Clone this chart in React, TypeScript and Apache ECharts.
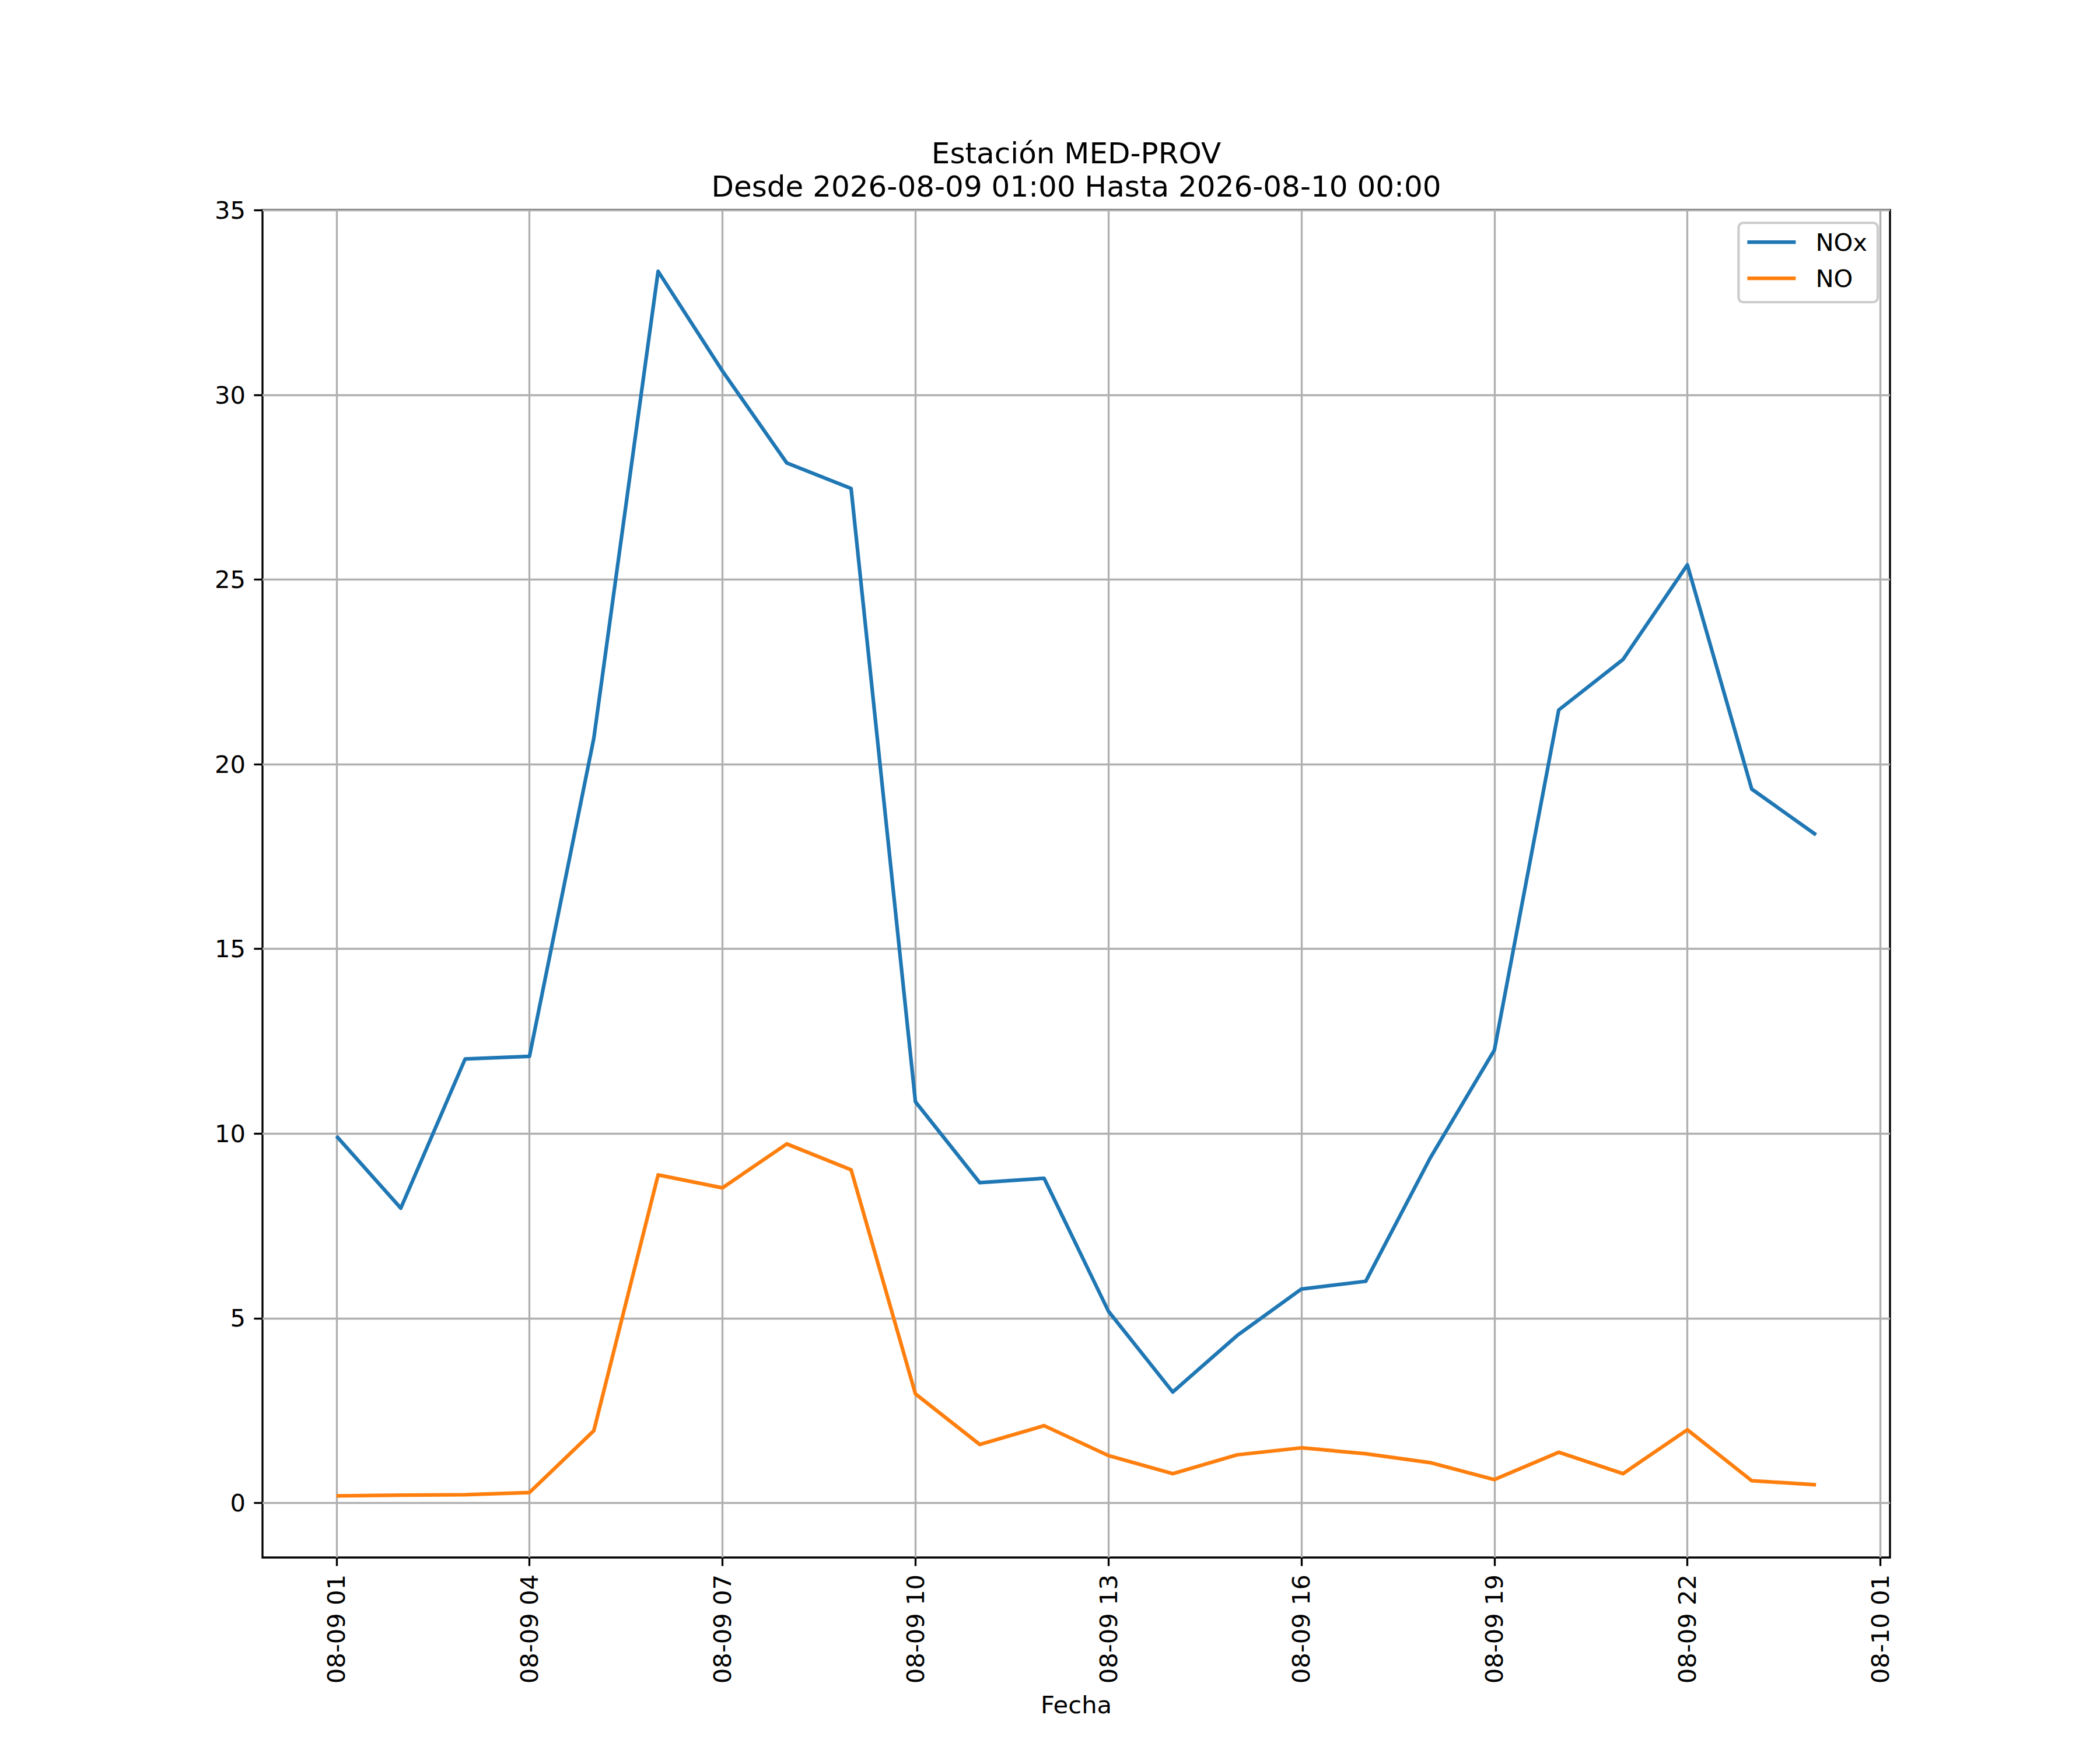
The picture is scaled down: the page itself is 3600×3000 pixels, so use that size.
import React, { useEffect, useRef } from "react";
import * as echarts from "echarts";

const hours = [1, 2, 3, 4, 5, 6, 7, 8, 9, 10, 11, 12, 13, 14, 15, 16, 17, 18, 19, 20, 21, 22, 23, 24];
const noxValues = [9.93, 7.98, 12.02, 12.09, 20.7, 33.35, 30.65, 28.16, 27.47, 10.86, 8.67, 8.79, 5.19, 3.0, 4.53, 5.79, 6.0, 9.33, 12.26, 21.47, 22.84, 25.4, 19.33, 18.09];
const noValues = [0.19, 0.21, 0.22, 0.28, 1.95, 8.88, 8.53, 9.72, 9.02, 2.95, 1.58, 2.09, 1.28, 0.79, 1.3, 1.49, 1.33, 1.09, 0.63, 1.37, 0.79, 1.98, 0.6, 0.49];
const xTickHours = [1, 4, 7, 10, 13, 16, 19, 22, 25];
const yTicks = [0, 5, 10, 15, 20, 25, 30, 35];
const titleLines = ["Estación MED-PROV", "Desde 2026-08-09 01:00 Hasta 2026-08-10 00:00"];
const xAxisName = "Fecha";
const seriesNames = ["NOx", "NO"];
const seriesColors = ["#1f77b4", "#ff7f0e"];

const FONT = "DejaVu Sans";
const FS = 41.67;

function pad2(n: number) {
  return n < 10 ? "0" + n : "" + n;
}
function hourLabel(h: number) {
  const hh = Math.round(h);
  if (hh < 24) return "08-09 " + pad2(hh);
  return "08-10 " + pad2(hh - 24);
}

export default function App() {
  const ref = useRef<HTMLDivElement>(null);
  useEffect(() => {
    if (!ref.current) return;
    const chart = echarts.init(ref.current, null, { renderer: "svg" });
    const toPairs = (vals: number[]) => hours.map((h, i) => [h, vals[i]]);
    chart.setOption({
      animation: false,
      backgroundColor: "#ffffff",
      textStyle: { fontFamily: FONT },
      title: {
        text: titleLines.join("\n"),
        left: 1845,
        top: 234,
        padding: 0,
        textAlign: "center",
        textStyle: {
          fontFamily: FONT,
          fontSize: 50,
          fontWeight: "normal",
          color: "#000000",
          lineHeight: 57,
        },
      },
      legend: {
        orient: "vertical",
        right: 381,
        top: 382,
        data: seriesNames,
        icon: "rect",
        itemWidth: 83,
        itemHeight: 6.25,
        itemGap: 20,
        padding: [12, 18, 20, 15],
        backgroundColor: "rgba(255,255,255,0.8)",
        borderColor: "#cccccc",
        borderWidth: 4.17,
        borderRadius: 8,
        textStyle: {
          fontFamily: FONT,
          fontSize: FS,
          color: "#000000",
          lineHeight: 42,
          padding: [0, 0, 0, 29],
        },
      },
      grid: {
        left: 450,
        top: 360,
        width: 2790,
        height: 2310,
        show: true,
        borderColor: "#000000",
        borderWidth: 3.33,
        backgroundColor: "transparent",
        containLabel: false,
      },
      xAxis: {
        type: "value",
        position: "bottom",
        min: -0.15,
        max: 25.15,
        name: xAxisName,
        nameLocation: "middle",
        nameGap: 231,
        nameTextStyle: { fontFamily: FONT, fontSize: FS, color: "#000000" },
        axisLine: { show: false, onZero: false },
        axisTick: {
          show: true,
          customValues: xTickHours,
          length: 14.6,
          lineStyle: { color: "#000000", width: 3.33 },
        },
        axisLabel: {
          customValues: xTickHours,
          rotate: 90,
          margin: 29,
          fontFamily: FONT,
          fontSize: FS,
          color: "#000000",
          formatter: (v: number) => hourLabel(v),
        },
        splitLine: { show: true, lineStyle: { color: "#b0b0b0", width: 3.33 } },
      },
      yAxis: {
        type: "value",
        position: "left",
        min: -1.48,
        max: 35.01,
        axisLine: { show: false, onZero: false },
        axisTick: {
          show: true,
          customValues: yTicks,
          length: 14.6,
          lineStyle: { color: "#000000", width: 3.33 },
        },
        axisLabel: {
          customValues: yTicks,
          margin: 29,
          fontFamily: FONT,
          fontSize: FS,
          color: "#000000",
          formatter: (v: number) => String(Math.round(v)),
        },
        splitLine: { show: true, lineStyle: { color: "#b0b0b0", width: 3.33 } },
      },
      series: [
        {
          name: seriesNames[0],
          type: "line",
          data: toPairs(noxValues),
          symbol: "none",
          showSymbol: false,
          color: seriesColors[0],
          lineStyle: { color: seriesColors[0], width: 6.25, join: "round" },
        },
        {
          name: seriesNames[1],
          type: "line",
          data: toPairs(noValues),
          symbol: "none",
          showSymbol: false,
          color: seriesColors[1],
          lineStyle: { color: seriesColors[1], width: 6.25, join: "round" },
        },
      ],
    });
    return () => chart.dispose();
  }, []);
  return (
    <div
      ref={ref}
      style={{ position: "absolute", left: 0, top: 0, width: 3600, height: 3000, background: "#fff" }}
    />
  );
}
